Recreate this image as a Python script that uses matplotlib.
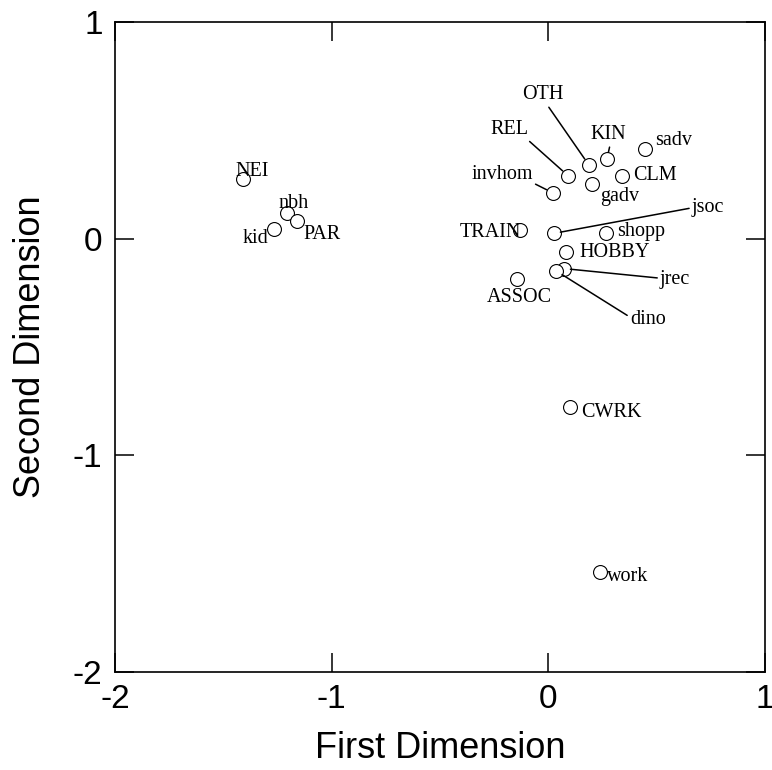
import numpy as np
import matplotlib.pyplot as plt

plt.rcParams['axes.unicode_minus'] = False

# point coordinates
names = ['NEI', 'nbh', 'PAR', 'kid', 'OTH', 'REL', 'KIN', 'sadv', 'CLM', 'gadv',
         'invhom', 'jsoc', 'TRAIN', 'shopp', 'HOBBY', 'jrec', 'ASSOC', 'dino',
         'CWRK', 'work']
x = [-1.408, -1.208, -1.161, -1.266, 0.186, 0.090, 0.270, 0.445, 0.338, 0.200,
     0.021, 0.024, -0.130, 0.266, 0.082, 0.070, -0.145, 0.036, 0.100, 0.238]
y = [0.274, 0.117, 0.083, 0.046, 0.341, 0.291, 0.367, 0.413, 0.291, 0.254,
     0.211, 0.024, 0.039, 0.024, -0.062, -0.138, -0.185, -0.149, -0.775, -1.537]

# where each name sits
label_x = [-1.369, -1.177, -1.043, -1.351, -0.025, -0.182, 0.278, 0.576, 0.490, 0.330,
           -0.214, 0.737, -0.270, 0.427, 0.305, 0.585, -0.132, 0.459, 0.290, 0.364]
label_y = [0.309, 0.163, 0.017, 0.002, 0.663, 0.505, 0.479, 0.452, 0.293, 0.196,
           0.295, 0.142, 0.030, 0.035, -0.065, -0.187, -0.272, -0.371, -0.801, -1.560]

# names joined to their point by a leader line, and where the line leaves the text
leaders = {'OTH': (0.5, 0.3), 'REL': (0.85, 0.2), 'KIN': (0.55, 0.05),
           'invhom': (0.8, 0.4), 'jsoc': (0.0, 0.5), 'jrec': (0.0, 0.55),
           'dino': (0.0, 0.6)}

ticks = [-2, -1, 0, 1]

fig = plt.figure(figsize=(7.72, 7.70), dpi=100)
ax = fig.add_axes([0.149, 0.1273, 0.842, 0.8442])

ax.plot(x, y, 'o', ms=10, mfc='white', mec='black', mew=0.8, ls='none', zorder=3)

for name, px, py, lx, ly in zip(names, x, y, label_x, label_y):
    if name in leaders:
        ax.annotate(name, xy=(px, py), xytext=(lx, ly), textcoords='data',
                    ha='center', va='center', family='Liberation Serif', fontsize=14.5,
                    arrowprops=dict(arrowstyle='-', color='black', lw=1.1,
                                    relpos=leaders[name], shrinkA=0, shrinkB=5))
    else:
        ax.text(lx, ly, name, ha='center', va='center',
                family='Liberation Serif', fontsize=14.5, zorder=4)

ax.set_xlim(-2, 1)
ax.set_ylim(-2, 1)
ax.set_xticks(ticks)
ax.set_yticks(ticks)
ax.set_xticklabels([str(t) for t in ticks])
ax.set_yticklabels([str(t) for t in ticks])
ax.tick_params(direction='in', length=14, width=1.1, top=True, right=True,
               labelsize=24, pad=9)
for lab in ax.get_xticklabels() + ax.get_yticklabels():
    lab.set_family('Liberation Sans')
for sp in ax.spines.values():
    sp.set_linewidth(1.2)

ax.set_xlabel('First Dimension', family='Liberation Sans', fontsize=26, labelpad=11)
ax.set_ylabel('Second Dimension', family='Liberation Sans', fontsize=26, labelpad=18)

fig.savefig('out.png', dpi=100)
